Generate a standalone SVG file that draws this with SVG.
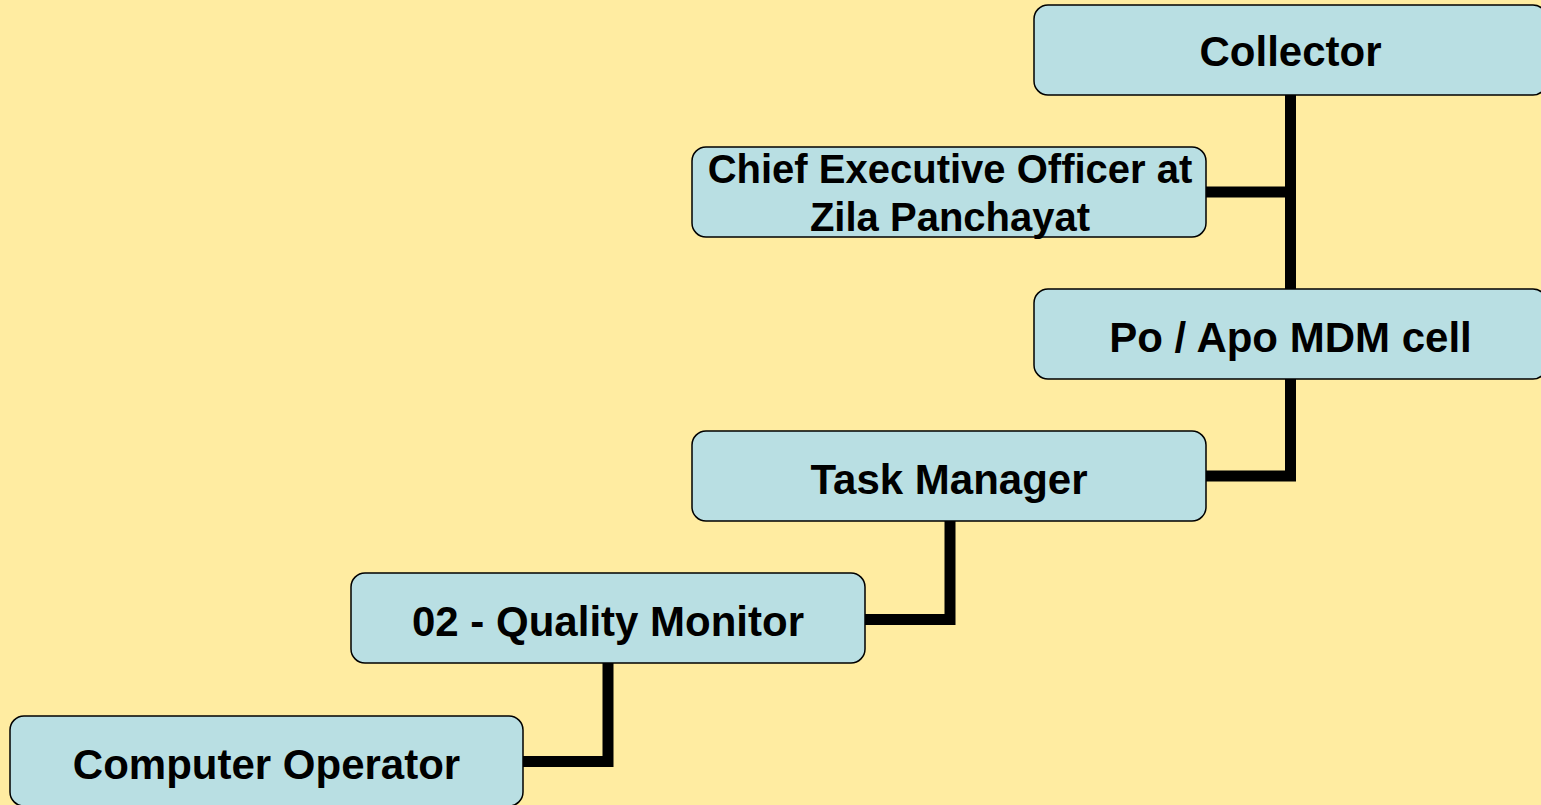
<svg xmlns="http://www.w3.org/2000/svg" width="1541" height="805" viewBox="0 0 1541 805">
<style>
.box{fill:#B9DFE3;stroke:#000;stroke-width:1.5}
.lbl{font-family:"Liberation Sans",Arial,sans-serif;font-weight:bold;font-size:42px;fill:#000;text-anchor:middle}
.sm{font-size:40px}
.con{fill:none;stroke:#000;stroke-width:11;stroke-linejoin:miter;stroke-linecap:butt}
</style>
<rect x="0" y="0" width="1541" height="805" fill="#FFECA1"/>
<g id="connectors">
<path class="con" d="M1290.5,95 V289"/>
<path class="con" d="M1206,192 H1290.5"/>
<path class="con" d="M1290.5,379 V476 H1206"/>
<path class="con" d="M950,521 V619.5 H865"/>
<path class="con" d="M608,663 V761.5 H523"/>
</g>
<g id="collector">
<rect class="box" x="1034" y="5" width="513" height="90" rx="14"/>
<text class="lbl" x="1290.5" y="66">Collector</text>
</g>
<g id="ceo">
<rect class="box" x="692" y="147" width="514" height="90" rx="14"/>
<text class="lbl sm" x="950" y="183">Chief Executive Officer at</text>
<text class="lbl sm" x="950" y="231">Zila Panchayat</text>
</g>
<g id="po">
<rect class="box" x="1034" y="289" width="513" height="90" rx="14"/>
<text class="lbl" x="1290.5" y="352">Po / Apo MDM cell</text>
</g>
<g id="task-manager">
<rect class="box" x="692" y="431" width="514" height="90" rx="14"/>
<text class="lbl" x="949" y="494">Task Manager</text>
</g>
<g id="quality-monitor">
<rect class="box" x="351" y="573" width="514" height="90" rx="14"/>
<text class="lbl" x="608" y="636">02 - Quality Monitor</text>
</g>
<g id="computer-operator">
<rect class="box" x="10" y="716" width="513" height="90" rx="14"/>
<text class="lbl" x="266.5" y="779">Computer Operator</text>
</g>
</svg>
